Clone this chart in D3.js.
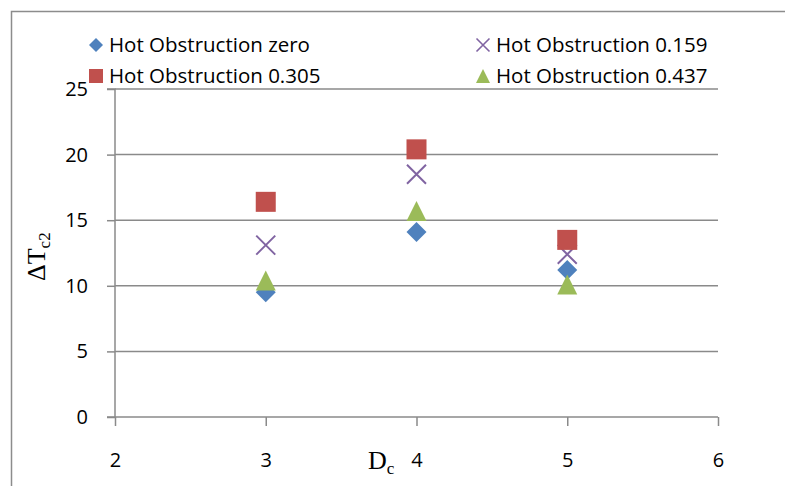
<!DOCTYPE html>
<html><head><meta charset="utf-8">
<script src="https://cdn.jsdelivr.net/npm/d3@7"></script>
<style>body{margin:0;background:#fff}</style>
</head><body>
<svg id="c" width="785" height="486"></svg>
<script>
const xValues = [3, 4, 5];
const seriesNames = ["Hot Obstruction zero", "Hot Obstruction 0.159", "Hot Obstruction 0.305", "Hot Obstruction 0.437"];
const valsZero = [9.5, 14.1, 11.2];
const vals0159 = [13.1, 18.5, 12.4];
const vals0305 = [16.4, 20.4, 13.5];
const vals0437 = [10.4, 15.7, 10.1];
const xTicks = [2, 3, 4, 5, 6];
const yTicks = [0, 5, 10, 15, 20, 25];

const svg = d3.select("#c");
const x = d3.scaleLinear().domain([2, 6]).range([115, 718]);
const y = d3.scaleLinear().domain([0, 25]).range([417, 89]);
const grid = "#8a8a8a";
const font = "'Open Sans', sans-serif";

// frame
svg.append("path").attr("d", "M11.5,486 V11.5 H785").attr("fill", "none").attr("stroke", "#8c8c8c").attr("stroke-width", 1.5);

// gridlines
svg.append("g").selectAll("line").data(yTicks.filter(d => d > 0)).join("line")
  .attr("x1", x(2)).attr("x2", x(6)).attr("y1", d => y(d)).attr("y2", d => y(d))
  .attr("stroke", grid).attr("stroke-width", 1.5);

// y axis
const yAx = svg.append("g").attr("transform", `translate(${x(2)},0)`)
  .call(d3.axisLeft(y).tickValues(yTicks).tickSize(8).tickPadding(19).tickFormat(d3.format("d")));
yAx.select(".domain").attr("stroke", grid).attr("stroke-width", 1.5).attr("d", `M-8,${y(25)}H0V${y(0)}`);
yAx.selectAll(".tick line").attr("stroke", grid).attr("stroke-width", 1.5);
yAx.selectAll(".tick text").attr("font-family", font).attr("font-size", 20).attr("fill", "#000");

// x axis
const xAx = svg.append("g").attr("transform", `translate(0,${y(0)})`)
  .call(d3.axisBottom(x).tickValues(xTicks).tickSize(9).tickPadding(27).tickFormat(d3.format("d")));
xAx.select(".domain").attr("stroke", grid).attr("stroke-width", 1.5).attr("d", `M${x(2) - 8},0H${x(6)}`);
xAx.selectAll(".tick line").attr("stroke", grid).attr("stroke-width", 1.5);
xAx.selectAll(".tick text").attr("font-family", font).attr("font-size", 20).attr("fill", "#000");

// axis titles
const yt = svg.append("text").attr("transform", "translate(45,281) rotate(-90)")
  .attr("font-family", "'Liberation Serif', 'Times New Roman', serif").attr("font-size", 26).attr("fill", "#000");
yt.append("tspan").text("ΔT");
yt.append("tspan").attr("font-size", 17).attr("dy", 5).text("c2");

const xt = svg.append("text").attr("x", 368).attr("y", 469)
  .attr("font-family", "'Liberation Serif', 'Times New Roman', serif").attr("font-size", 26).attr("fill", "#000");
xt.append("tspan").text("D");
xt.append("tspan").attr("font-size", 17).attr("dy", 5).text("c");

// markers
const colors = {zero: "#4f81bd", p159: "#8064a2", p305: "#c0504d", p437: "#9bbb59"};
function marker(g, type, cx, cy, s) {
  if (type === "diamond") {
    const h = s / 2;
    g.append("path").attr("d", `M${cx},${cy - h}L${cx + h},${cy}L${cx},${cy + h}L${cx - h},${cy}Z`).attr("fill", colors.zero);
  } else if (type === "square") {
    g.append("rect").attr("x", cx - s / 2).attr("y", cy - s / 2).attr("width", s).attr("height", s).attr("fill", colors.p305);
  } else if (type === "tri") {
    const h = s / 2;
    g.append("path").attr("d", `M${cx},${cy - h}L${cx + h},${cy + h}L${cx - h},${cy + h}Z`).attr("fill", colors.p437);
  } else if (type === "x") {
    const h = s / 2;
    g.append("path").attr("d", `M${cx - h},${cy - h}L${cx + h},${cy + h}M${cx + h},${cy - h}L${cx - h},${cy + h}`)
      .attr("stroke", colors.p159).attr("stroke-width", s > 15 ? 2 : 1.6).attr("fill", "none");
  }
}
const drawOrder = [
  {type: "x", vals: vals0159},
  {type: "diamond", vals: valsZero},
  {type: "square", vals: vals0305},
  {type: "tri", vals: vals0437}
];
const pts = svg.append("g");
drawOrder.forEach(s => {
  s.vals.forEach((v, i) => marker(pts, s.type, x(xValues[i]), y(v), s.type === "x" ? 19 : 20));
});

// legend
const legend = [
  {type: "diamond", name: seriesNames[0], mx: 96, my: 45},
  {type: "x", name: seriesNames[1], mx: 483, my: 45},
  {type: "square", name: seriesNames[2], mx: 96, my: 76},
  {type: "tri", name: seriesNames[3], mx: 483, my: 76}
];
const lg = svg.append("g");
legend.forEach(l => {
  marker(lg, l.type, l.mx, l.my, l.type === "x" ? 13 : 14);
  lg.append("text").attr("x", l.mx + 13).attr("y", l.my + 7).attr("font-family", font).attr("font-size", 20.5)
    .attr("fill", "#000").text(l.name);
});
</script>
</body></html>
